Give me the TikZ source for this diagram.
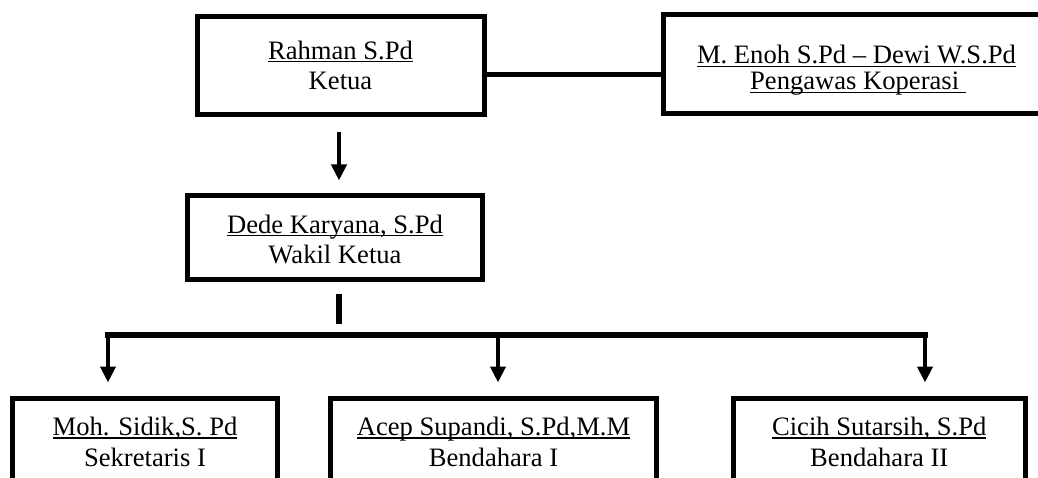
\documentclass[tikz,border=0pt]{standalone}
\usepackage{fontspec}
\setmainfont{Liberation Serif}
\usetikzlibrary{arrows.meta,calc}
\newcommand\myul[1]{\setbox0\hbox{#1}\rlap{\rule[-3pt]{\wd0}{1.4pt}}\box0}
\begin{document}
\begin{tikzpicture}[x=1pt,y=-1pt,
  box/.style={draw, line width=5pt, inner sep=0pt},
  lbl/.style={anchor=base, inner sep=0pt, font=\fontsize{26.6pt}{30pt}\selectfont},
  conn/.style={line width=5pt},
  arr/.style={line width=4.5pt, -{Triangle[width=15pt,length=16pt]}},
]
\useasboundingbox (0,0) rectangle (1038,478);
\clip (0,0) rectangle (1038,478);
\fill[white] (0,0) rectangle (1038,478);

% boxes
\node[box, minimum width=286.5pt, minimum height=98pt] (rahman) at (340.75,65.5) {};
\node[box, minimum width=386pt, minimum height=99pt] (pengawas) at (856,64) {};
\node[box, minimum width=295pt, minimum height=84pt] (dede) at (335,237.5) {};
\node[box, minimum width=265pt, minimum height=142pt] (box1) at (145,469) {};
\node[box, minimum width=326pt, minimum height=142pt] (box2) at (493.5,469) {};
\node[box, minimum width=292.5pt, minimum height=142pt] (box3) at (879.25,469) {};

% texts
\node[lbl] (rahmanN) at (340.5,59.5) {\myul{Rahman S.Pd}};
\node[lbl] (rahmanR) at (340.5,89.5) {Ketua};
\node[lbl] (pengawasN) at (856.5,64) {\myul{M. Enoh S.Pd \textendash{} Dewi W.S.Pd}};
\node[lbl] (pengawasR) at (858,90) {\myul{Pengawas Koperasi\ }};
\node[lbl] (dedeN) at (335,233.5) {\myul{Dede Karyana, S.Pd}};
\node[lbl] (dedeR) at (335,263.5) {Wakil Ketua};
\node[lbl] (box1N) at (145,435.5) {\myul{Moh. Sidik,S. Pd}};
\node[lbl] (box1R) at (145,466) {Sekretaris I};
\node[lbl] (box2N) at (493.5,435.5) {\myul{Acep Supandi, S.Pd,M.M}};
\node[lbl] (box2R) at (493.5,466) {Bendahara I};
\node[lbl] (box3N) at (879.25,435.5) {\myul{Cicih Sutarsih, S.Pd}};
\node[lbl] (box3R) at (879.25,466) {Bendahara II};

% connectors
\draw[conn] ([yshift=-9pt]rahman.east) -- ([yshift=-9pt]rahman.east -| pengawas.west);
\coordinate (a1) at ($(rahman.south)+(-1.75,15.5)$);
\draw[arr, shorten >=12.5pt] (a1) -- (a1 |- dede.north);

\coordinate (split) at (339,335);
\coordinate (bl) at (108,335);
\coordinate (bm) at (498,335);
\coordinate (br) at (925,335);
\draw[line width=6pt] ($(dede.south)+(4,11.5)$) -- ($(split)+(0,-11)$);
\draw[line width=5.5pt, line cap=rect] (bl) -- (br);
\draw[arr, shorten >=13pt] (bl) -- (bl |- box1.north);
\draw[arr, shorten >=13pt] (bm) -- (bm |- box2.north);
\draw[arr, shorten >=13pt] (br) -- (br |- box3.north);
\end{tikzpicture}
\end{document}
